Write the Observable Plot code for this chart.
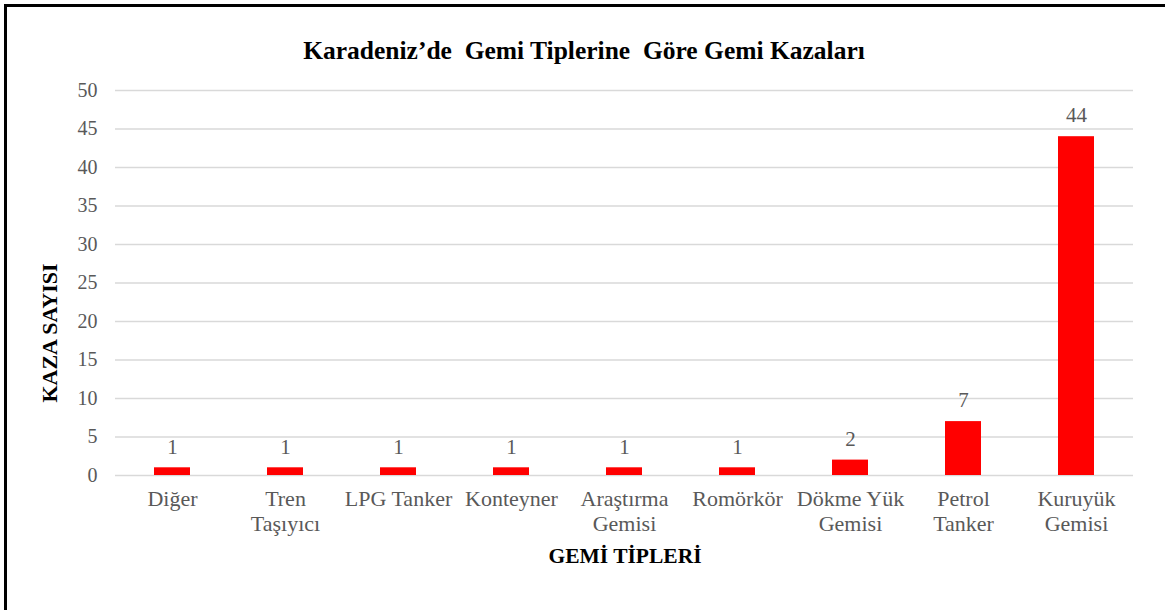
<!DOCTYPE html>
<html>
<head>
<meta charset="utf-8">
<script src="https://cdn.jsdelivr.net/npm/d3@7"></script>
<script src="https://cdn.jsdelivr.net/npm/@observablehq/plot@0.6"></script>
<style>
  html, body { margin: 0; padding: 0; background: #fff; }
  #wrap { position: relative; width: 1165px; height: 610px; overflow: hidden; background: #fff; }
  #frame { position: absolute; left: 4px; top: 4px; width: 2000px; height: 2000px;
           border-top: 3px solid #000; border-left: 3px solid #000; box-sizing: border-box; }
  #chart { position: absolute; left: 0; top: 0; }
  .ttl { position: absolute; font-family: "Liberation Serif", serif; font-weight: bold; color: #000; white-space: nowrap; }
  #title { left: 584px; top: 51px; transform: translate(-50%, -50%); font-size: 25.5px; }
  #xtitle { left: 625px; top: 556px; transform: translate(-50%, -50%); font-size: 21.5px; }
  #ytitle { left: 50px; top: 333px; transform: translate(-50%, -50%) rotate(-90deg); font-size: 22px; }
</style>
</head>
<body>
<div id="wrap">
  <div id="frame"></div>
  <div id="chart"></div>
  <div class="ttl" id="title">Karadeniz’de&nbsp; Gemi Tiplerine&nbsp; Göre Gemi Kazaları</div>
  <div class="ttl" id="xtitle">GEMİ TİPLERİ</div>
  <div class="ttl" id="ytitle">KAZA SAYISI</div>
</div>
<script>
const categories = ["Diğer", "Tren Taşıyıcı", "LPG Tanker", "Konteyner", "Araştırma Gemisi", "Romörkör", "Dökme Yük Gemisi", "Petrol Tanker", "Kuruyük Gemisi"];
const tickLabels = ["Diğer", "Tren\nTaşıyıcı", "LPG Tanker", "Konteyner", "Araştırma\nGemisi", "Romörkör", "Dökme Yük\nGemisi", "Petrol\nTanker", "Kuruyük\nGemisi"];
const values = [1, 1, 1, 1, 1, 1, 2, 7, 44];
const yTicks = [0, 5, 10, 15, 20, 25, 30, 35, 40, 45, 50];

const data = categories.map((c, i) => ({cat: c, val: values[i]}));
const FONT = "'Liberation Serif', 'Times New Roman', serif";

const chart = Plot.plot({
  width: 1165,
  height: 610,
  marginLeft: 115,
  marginRight: 32,
  marginTop: 90,
  marginBottom: 135,
  style: {fontFamily: FONT, fontSize: "21px", color: "#595959", background: "transparent"},
  x: {domain: categories, paddingInner: 0.68, paddingOuter: 0.34, label: null},
  y: {domain: [0, 50], label: null},
  marks: [
    Plot.gridY(yTicks, {stroke: "#d9d9d9", strokeOpacity: 1, strokeWidth: 1.3}),
    Plot.barY(data, {x: "cat", y: "val", fill: "#ff0000"}),
    Plot.text(data, {x: "cat", y: "val", text: d => String(d.val), dy: -21, fill: "#595959", fontSize: 21, fontFamily: FONT}),
    Plot.axisY(yTicks, {tickSize: 0, tickPadding: 18, label: null, fill: "#595959", fontSize: 20, fontFamily: FONT}),
    Plot.axisX({tickSize: 0, tickPadding: 13, label: null, fill: "#595959", fontSize: 22, fontFamily: FONT, lineHeight: 1.14,
                tickFormat: d => tickLabels[categories.indexOf(d)]})
  ]
});
document.getElementById("chart").appendChild(chart);
</script>
</body>
</html>
